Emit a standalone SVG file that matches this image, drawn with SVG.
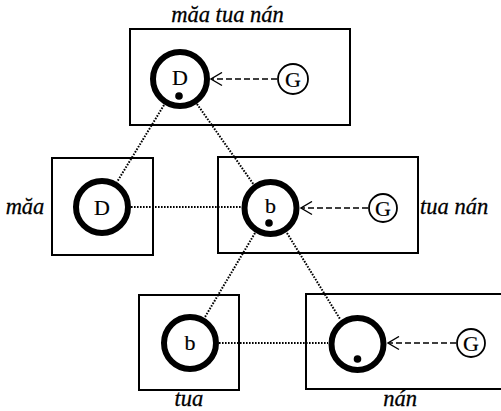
<svg xmlns="http://www.w3.org/2000/svg" width="501" height="411" viewBox="0 0 501 411">
<defs>
<style>
.box{fill:none;stroke:#000;stroke-width:2}
.big{fill:#fff;stroke:#000;stroke-width:6}
.g{fill:#fff;stroke:#000;stroke-width:1.8}
.dot{fill:#000}
.dotted{fill:none;stroke:#000;stroke-width:2;stroke-dasharray:1.6 1.4}
.dashed{fill:none;stroke:#000;stroke-width:1.3;stroke-dasharray:6 3}
.lbl{font-family:"Liberation Serif",serif;font-style:italic;font-size:22.5px;fill:#000;stroke:#000;stroke-width:0.3}
.in{font-family:"Liberation Serif",serif;font-size:22px;fill:#000;text-anchor:middle;stroke:#000;stroke-width:0.2}
</style>
<marker id="open" viewBox="0 0 13 15" refX="12" refY="7.5" markerWidth="13" markerHeight="15" markerUnits="userSpaceOnUse" orient="auto">
<path d="M1,1 L12,7.5 L1,14" fill="none" stroke="#000" stroke-width="1.4"/>
</marker>
</defs>
<rect width="501" height="411" fill="#fff"/>
<g id="connectors">
<line class="dotted" x1="164" y1="105" x2="117" y2="182"/>
<line class="dotted" x1="197" y1="104" x2="254" y2="185"/>
<line class="dotted" x1="131" y1="207" x2="241" y2="207"/>
<line class="dotted" x1="255" y1="233" x2="205" y2="317"/>
<line class="dotted" x1="287" y1="233" x2="340" y2="319"/>
<line class="dotted" x1="219" y1="343" x2="328" y2="343"/>
<line class="dashed" x1="277" y1="79" x2="211" y2="79" marker-end="url(#open)"/>
<line class="dashed" x1="368" y1="208" x2="301" y2="208" marker-end="url(#open)"/>
<line class="dashed" x1="456" y1="343" x2="388" y2="343" marker-end="url(#open)"/>
</g>
<g id="n-top">
<rect class="box" x="130" y="29" width="220" height="96"/>
<text class="lbl" x="227.5" y="22" text-anchor="middle">măa tua nán</text>
<circle class="big" cx="180" cy="79" r="27"/>
<text class="in" x="180" y="85">D</text>
<circle class="dot" cx="179" cy="96" r="3.8"/>
<circle class="g" cx="293" cy="79" r="15"/>
<text class="in" x="293" y="86.5">G</text>
</g>
<g id="n-maa">
<rect class="box" x="52" y="158" width="101" height="97"/>
<text class="lbl" x="25" y="214" text-anchor="middle">măa</text>
<circle class="big" cx="102" cy="207" r="26"/>
<text class="in" x="102" y="215">D</text>
</g>
<g id="n-tuanan">
<rect class="box" x="218" y="157" width="200" height="96"/>
<text class="lbl" x="420" y="214">tua nán</text>
<circle class="big" cx="270.5" cy="208" r="26"/>
<text class="in" x="270.5" y="213">b</text>
<circle class="dot" cx="269" cy="223" r="3.8"/>
<circle class="g" cx="383" cy="208" r="14"/>
<text class="in" x="383" y="215.5">G</text>
</g>
<g id="n-tua">
<rect class="box" x="139" y="295" width="100" height="95"/>
<text class="lbl" x="189" y="406" text-anchor="middle">tua</text>
<circle class="big" cx="190" cy="343" r="26"/>
<text class="in" x="190" y="350">b</text>
</g>
<g id="n-nan">
<rect class="box" x="306" y="294" width="210" height="95"/>
<text class="lbl" x="400" y="406" text-anchor="middle">nán</text>
<circle class="big" cx="357.5" cy="344" r="26"/>
<circle class="dot" cx="357.5" cy="359" r="3.8"/>
<circle class="g" cx="471" cy="343" r="14"/>
<text class="in" x="471" y="350.5">G</text>
</g>
</svg>
